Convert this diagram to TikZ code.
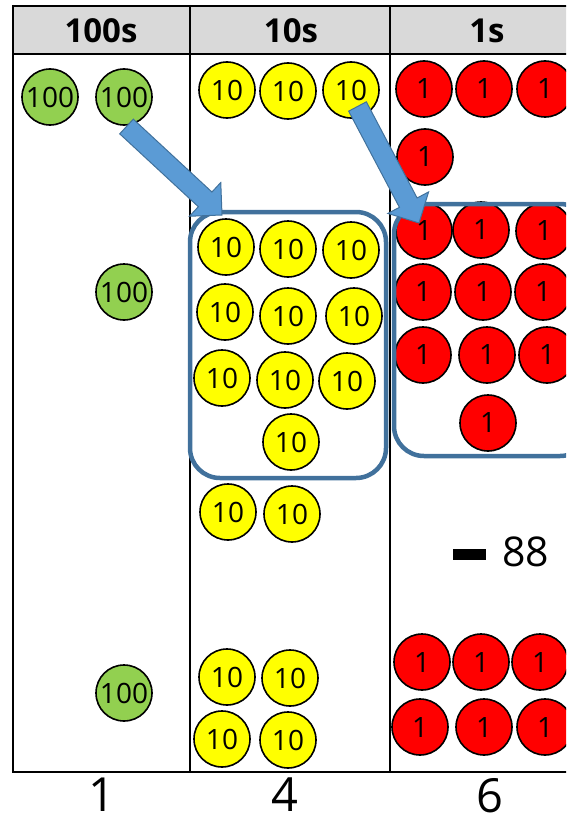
\documentclass[tikz,border=0pt]{standalone}
\usepackage{fontspec}
\setmainfont{Open Sans}
\usepackage{tikz}
\usetikzlibrary{calc}
\definecolor{hundredgreen}{HTML}{92D050}
\definecolor{tenyellow}{HTML}{FFFF00}
\definecolor{onered}{HTML}{FF0000}
\definecolor{headgray}{HTML}{D9D9D9}
\definecolor{boxblue}{HTML}{41719C}
\definecolor{arrowblue}{HTML}{5B9BD5}
\tikzset{
  counter/.style={circle, draw=black, line width=1.6pt, minimum size=56pt, inner sep=0pt, font=\fontsize{28}{28}\selectfont},
  hundred/.style={counter, fill=hundredgreen},
  ten/.style={counter, fill=tenyellow},
  one/.style={counter, fill=onered},
  groupbox/.style={draw=boxblue, line width=4.5pt, rounded corners=30pt, inner sep=0pt},
  blockarrow/.style={draw=boxblue, line width=1pt, fill=arrowblue, line join=miter},
  tableline/.style={black, line width=2pt}
}
\newcommand{\blockarrow}[2]{
  \draw[blockarrow] ($(#1)!10pt!90:(#2)$) -- ($(#2)!23pt!(#1)!10pt!-90:(#1)$) -- ($(#2)!23pt!(#1)!23pt!-90:(#1)$)
    -- (#2) -- ($(#2)!23pt!(#1)!23pt!90:(#1)$) -- ($(#2)!23pt!(#1)!10pt!90:(#1)$) -- ($(#1)!10pt!-90:(#2)$) -- cycle;
}

\begin{document}
\begin{tikzpicture}[x=1pt, y=-1pt]
    \useasboundingbox (0,0) rectangle (566,824);
    \clip (0,0) rectangle (566,824);
    \fill[headgray] (13,6) rectangle (590,54);
    \draw[tableline] (13,6) -- (590,6);
    \draw[tableline] (13,54) -- (590,54);
    \draw[tableline] (13,772) -- (590,772);
    \foreach \x in {13,190,390} {
    \draw[tableline] (\x,5) -- (\x,773);
    }
    \node[font=\fontsize{33}{33}\selectfont\bfseries] (head100) at (101,31) {100s};
    \node[font=\fontsize{33}{33}\selectfont\bfseries] (head10) at (291,31) {10s};
    \node[font=\fontsize{33}{33}\selectfont\bfseries] (head1) at (487,31) {1s};
    \foreach \x/\y [count=\i] in {50/97, 124/97, 124/292, 124/693} {
    \node[hundred] (hundred\i) at (\x,\y) {100};
    }
    \foreach \x/\y [count=\i] in {227/90, 288/91, 351/90, 226/247, 288/249, 351/250, 225/312, 288/316, 354/316,
        222/378, 285/380, 347/381, 291/442, 228/512, 292/514, 227/677, 290/678, 222/739, 288/740} {
    \node[ten] (ten\i) at (\x,\y) {10};
    }
    \foreach \x/\y [count=\i] in {424/89, 484/89, 545/89, 425/157, 424/231, 481/230, 544/231, 423/292, 483/292, 543/292,
        423/355, 487/355, 547/355, 488/423, 422/662, 481/662, 540/662, 420/727, 484/727, 545/727} {
    \node[one] (one\i) at (\x,\y) {1};
    }
    \node[groupbox, minimum width=196pt, minimum height=266pt] (box10) at (288,345) {};
    \node[groupbox, minimum width=196pt, minimum height=252pt] (box1) at (492,330) {};
    \coordinate (arrow10s) at (126.5,126.5);
    \coordinate (arrow10e) at (222,215);
    \coordinate (arrow1s) at (357.5,106.5);
    \coordinate (arrow1e) at (419,223);
    \blockarrow{arrow10s}{arrow10e}
    \blockarrow{arrow1s}{arrow1e}
    \node[anchor=base west, inner sep=0pt, font=\fontsize{41}{41}\selectfont] (minus88) at (453,566) {\rule[6pt]{33pt}{11pt}\hspace{16pt}88};
    \node[anchor=base, inner sep=0pt, font=\fontsize{47}{47}\selectfont] (digit100) at (102,811) {1};
    \node[anchor=base, inner sep=0pt, font=\fontsize{47}{47}\selectfont] (digit10) at (285,811) {4};
    \node[anchor=base, inner sep=0pt, font=\fontsize{47}{47}\selectfont] (digit1) at (490,812) {6};
\end{tikzpicture}
\end{document}
